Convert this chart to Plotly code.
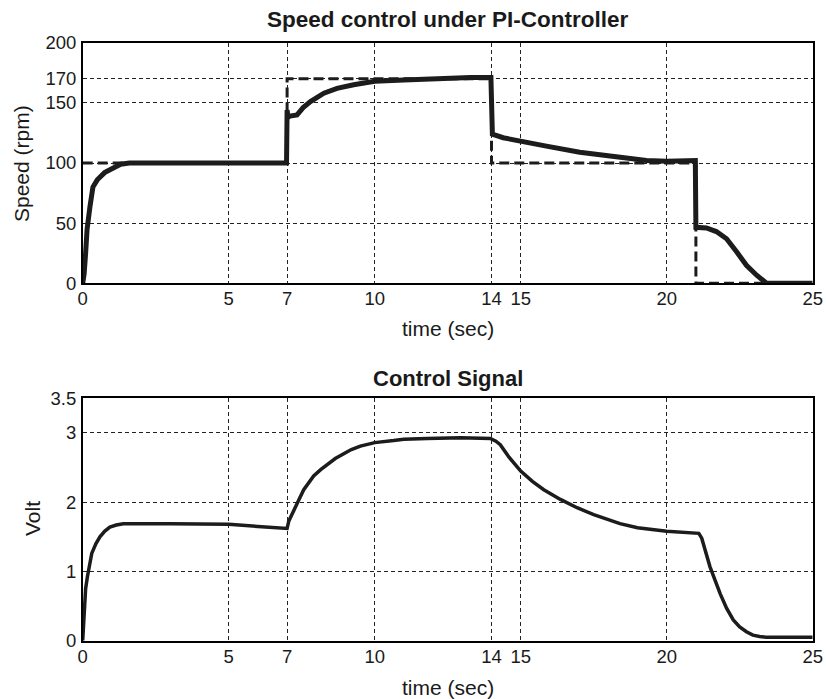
import plotly.graph_objects as go

W, H = 826, 699

# ---------------- data ----------------
x_ticks = [0, 5, 7, 10, 14, 15, 20, 25]
speed_ticks = [0, 50, 100, 150, 170, 200]
volt_ticks = [0, 1, 2, 3, 3.5]

t_ref = [0, 7, 7, 14, 14, 21, 21, 25]
speed_ref = [100, 100, 170, 170, 100, 100, 0, 0]

t_speed = [0, 0.05, 0.1, 0.15, 0.25, 0.35, 0.5, 0.6, 0.75, 0.9,
           1.1, 1.3, 1.6, 2.0, 3.0, 4.0, 5.0, 6.0, 6.98, 7.0,
           7.03, 7.1, 7.34, 7.55, 7.8, 8.26, 8.71, 9.28, 10.0, 11.0,
           12.14, 13.28, 13.98, 14.0, 14.03, 14.4, 15.0, 15.88, 17.02, 18.17,
           19.31, 20.0, 20.9, 20.98, 21.0, 21.36, 21.7, 22.05, 22.4, 22.73,
           23.08, 23.42, 25.0]
speed = [0, 8, 25, 45, 64, 80, 86, 89, 92, 94,
         97, 99, 100, 100, 100.5, 100, 100.5, 100, 100, 144,
         138, 139, 140, 146, 151, 158, 162, 165, 168, 169,
         170.5, 171, 171, 125, 124, 121, 118, 114, 109, 105,
         102, 101.5, 102, 102, 46.5, 46, 43, 37, 26, 15,
         6.7, 0, 0]

t_ctrl = [0, 0.05, 0.1, 0.16, 0.23, 0.31, 0.45, 0.59, 0.75, 0.93,
          1.15, 1.39, 3.0, 5.0, 6.0, 6.98, 7.0, 7.06, 7.23, 7.4,
          7.57, 7.75, 7.91, 8.15, 8.37, 8.65, 8.94, 9.2, 9.51, 10.0,
          10.65, 11.0, 11.8, 12.94, 13.96, 14.15, 14.3, 14.6, 15.0, 15.4,
          15.79, 16.36, 16.93, 17.5, 18.4, 19.0, 20.0, 21.1, 21.2, 21.48,
          21.83, 22.05, 22.28, 22.5, 22.73, 22.95, 23.18, 23.4, 25.0]
volt = [0, 0.5, 0.75, 0.92, 1.1, 1.26, 1.4, 1.5, 1.58, 1.64,
        1.67, 1.69, 1.69, 1.68, 1.65, 1.62, 1.62, 1.73, 1.87, 2.03,
        2.18, 2.29, 2.38, 2.47, 2.54, 2.63, 2.70, 2.76, 2.81, 2.86,
        2.89, 2.91, 2.92, 2.93, 2.92, 2.88, 2.83, 2.65, 2.45, 2.3,
        2.18, 2.04, 1.92, 1.82, 1.69, 1.63, 1.58, 1.55, 1.48, 1.07,
        0.68, 0.47, 0.30, 0.2, 0.13, 0.08, 0.06, 0.05, 0.05]

# ---------------- figure ----------------
FONT = "Liberation Sans, Arial, sans-serif"
LINE = "#1c1c1c"

def px_x(p):
    return p / W

def px_y(p):
    return 1 - p / H

fig = go.Figure()
fig.add_trace(go.Scatter(x=t_ref, y=speed_ref, mode="lines",
                         line=dict(color=LINE, width=3, dash="10px,5px"),
                         xaxis="x", yaxis="y", showlegend=False))
fig.add_trace(go.Scatter(x=t_speed, y=speed, mode="lines",
                         line=dict(color=LINE, width=5),
                         xaxis="x", yaxis="y", showlegend=False))
fig.add_trace(go.Scatter(x=t_ctrl, y=volt, mode="lines",
                         line=dict(color=LINE, width=3.5),
                         xaxis="x2", yaxis="y2", showlegend=False))

xdom = [px_x(82.7), px_x(812.7)]
axis_common = dict(
    showline=True, linecolor="black", linewidth=1.5, mirror=True,
    showgrid=True, gridcolor="#222222", gridwidth=0.8, griddash="4px,3px",
    zeroline=False, ticks="", ticklen=0, automargin=False,
    tickfont=dict(family=FONT, size=18.5, color="#1a1a1a"),
)

fig.update_layout(
    template="none",
    width=W, height=H,
    margin=dict(l=0, r=0, t=0, b=0, pad=0),
    paper_bgcolor="white", plot_bgcolor="white",
    xaxis=dict(domain=xdom, range=[0, 25], tickvals=x_ticks,
               ticktext=[str(v) for v in x_ticks], anchor="y",
               ticklabelstandoff=-2, **axis_common),
    yaxis=dict(domain=[px_y(283.3), px_y(42.7)], range=[0, 200],
               tickvals=speed_ticks, ticktext=[str(v) for v in speed_ticks],
               anchor="x", ticklabelstandoff=1, **axis_common),
    xaxis2=dict(domain=xdom, range=[0, 25], tickvals=x_ticks,
                ticktext=[str(v) for v in x_ticks], anchor="y2",
                ticklabelstandoff=-2, **axis_common),
    yaxis2=dict(domain=[px_y(640.7), px_y(398.3)], range=[0, 3.5],
                tickvals=volt_ticks, ticktext=["0", "1", "2", "3", "3.5"],
                anchor="x2", ticklabelstandoff=1, **axis_common),
)

def ann(text, x, y, size, angle=0):
    fig.add_annotation(text=text, x=px_x(x), y=px_y(y), xref="paper", yref="paper",
                       showarrow=False, xanchor="center", yanchor="middle",
                       textangle=angle,
                       font=dict(family=FONT, size=size, color="#1a1a1a"))

ann("<b>Speed control under PI-Controller</b>", 448, 20, 22.5)
ann("<b>Control Signal</b>", 448, 378, 22)
ann("time (sec)", 448, 328, 21)
ann("time (sec)", 448, 687, 21)
ann("Speed (rpm)", 21, 164, 21, -90)
ann("Volt", 32, 519, 21, -90)

fig.write_html("out.html")
